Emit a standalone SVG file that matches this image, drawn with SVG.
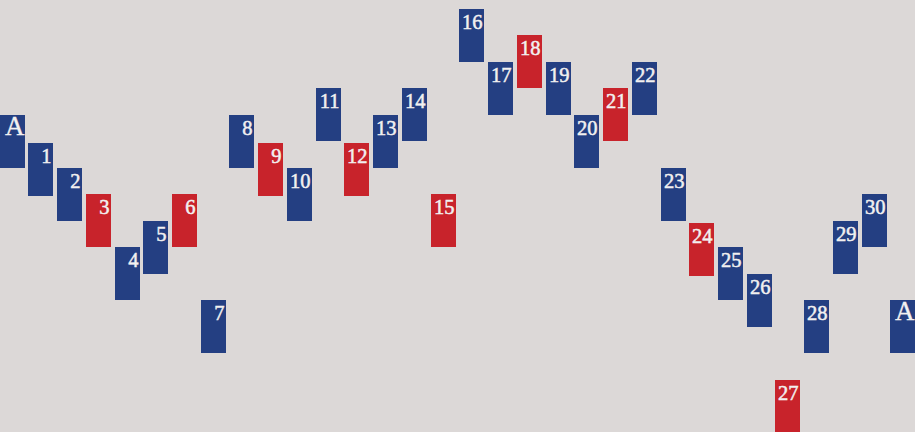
<svg xmlns="http://www.w3.org/2000/svg" width="915" height="432" viewBox="0 0 915 432">
<style>
.b{fill:#243f82}
.r{fill:#c8232b}
text{font-family:"Liberation Serif","Times New Roman",serif;fill:#f2f0f0;stroke:#f2f0f0;stroke-width:0.5px;text-anchor:end;font-size:20.5px}
.a{font-size:27px;stroke-width:0.3px}
</style>
<rect width="915" height="432" fill="#dcd8d7"/>
<g id="nA1" transform="translate(0,115)"><rect class="b" width="25" height="53"/><text class="a" x="24.5" y="20">A</text></g>
<g id="n1" transform="translate(28,143)"><rect class="b" width="25" height="53"/><text x="23.5" y="20">1</text></g>
<g id="n2" transform="translate(57,168)"><rect class="b" width="25" height="53"/><text x="23.5" y="20">2</text></g>
<g id="n3" transform="translate(86,194)"><rect class="r" width="25" height="53"/><text x="23.5" y="20">3</text></g>
<g id="n4" transform="translate(115,247)"><rect class="b" width="25" height="53"/><text x="23.5" y="20">4</text></g>
<g id="n5" transform="translate(143,221)"><rect class="b" width="25" height="53"/><text x="23.5" y="20">5</text></g>
<g id="n6" transform="translate(172,194)"><rect class="r" width="25" height="53"/><text x="23.5" y="20">6</text></g>
<g id="n7" transform="translate(201,300)"><rect class="b" width="25" height="53"/><text x="23.5" y="20">7</text></g>
<g id="n8" transform="translate(229,115)"><rect class="b" width="25" height="53"/><text x="23.5" y="20">8</text></g>
<g id="n9" transform="translate(258,143)"><rect class="r" width="25" height="53"/><text x="23.5" y="20">9</text></g>
<g id="n10" transform="translate(287,168)"><rect class="b" width="25" height="53"/><text x="23.5" y="20">10</text></g>
<g id="n11" transform="translate(316,88)"><rect class="b" width="25" height="53"/><text x="23.5" y="20">11</text></g>
<g id="n12" transform="translate(344,143)"><rect class="r" width="25" height="53"/><text x="23.5" y="20">12</text></g>
<g id="n13" transform="translate(373,115)"><rect class="b" width="25" height="53"/><text x="23.5" y="20">13</text></g>
<g id="n14" transform="translate(402,88)"><rect class="b" width="25" height="53"/><text x="23.5" y="20">14</text></g>
<g id="n15" transform="translate(431,194)"><rect class="r" width="25" height="53"/><text x="23.5" y="20">15</text></g>
<g id="n16" transform="translate(459,9)"><rect class="b" width="25" height="53"/><text x="23.5" y="20">16</text></g>
<g id="n17" transform="translate(488,62)"><rect class="b" width="25" height="53"/><text x="23.5" y="20">17</text></g>
<g id="n18" transform="translate(517,35)"><rect class="r" width="25" height="53"/><text x="23.5" y="20">18</text></g>
<g id="n19" transform="translate(546,62)"><rect class="b" width="25" height="53"/><text x="23.5" y="20">19</text></g>
<g id="n20" transform="translate(574,115)"><rect class="b" width="25" height="53"/><text x="23.5" y="20">20</text></g>
<g id="n21" transform="translate(603,88)"><rect class="r" width="25" height="53"/><text x="23.5" y="20">21</text></g>
<g id="n22" transform="translate(632,62)"><rect class="b" width="25" height="53"/><text x="23.5" y="20">22</text></g>
<g id="n23" transform="translate(661,168)"><rect class="b" width="25" height="53"/><text x="23.5" y="20">23</text></g>
<g id="n24" transform="translate(689,223)"><rect class="r" width="25" height="53"/><text x="23.5" y="20">24</text></g>
<g id="n25" transform="translate(718,247)"><rect class="b" width="25" height="53"/><text x="23.5" y="20">25</text></g>
<g id="n26" transform="translate(747,274)"><rect class="b" width="25" height="53"/><text x="23.5" y="20">26</text></g>
<g id="n27" transform="translate(775,380)"><rect class="r" width="25" height="53"/><text x="23.5" y="20">27</text></g>
<g id="n28" transform="translate(804,300)"><rect class="b" width="25" height="53"/><text x="23.5" y="20">28</text></g>
<g id="n29" transform="translate(833,221)"><rect class="b" width="25" height="53"/><text x="23.5" y="20">29</text></g>
<g id="n30" transform="translate(862,194)"><rect class="b" width="25" height="53"/><text x="23.5" y="20">30</text></g>
<g id="nA2" transform="translate(890,300)"><rect class="b" width="25" height="53"/><text class="a" x="24.5" y="20">A</text></g>
<g id="connectors"/>
</svg>
